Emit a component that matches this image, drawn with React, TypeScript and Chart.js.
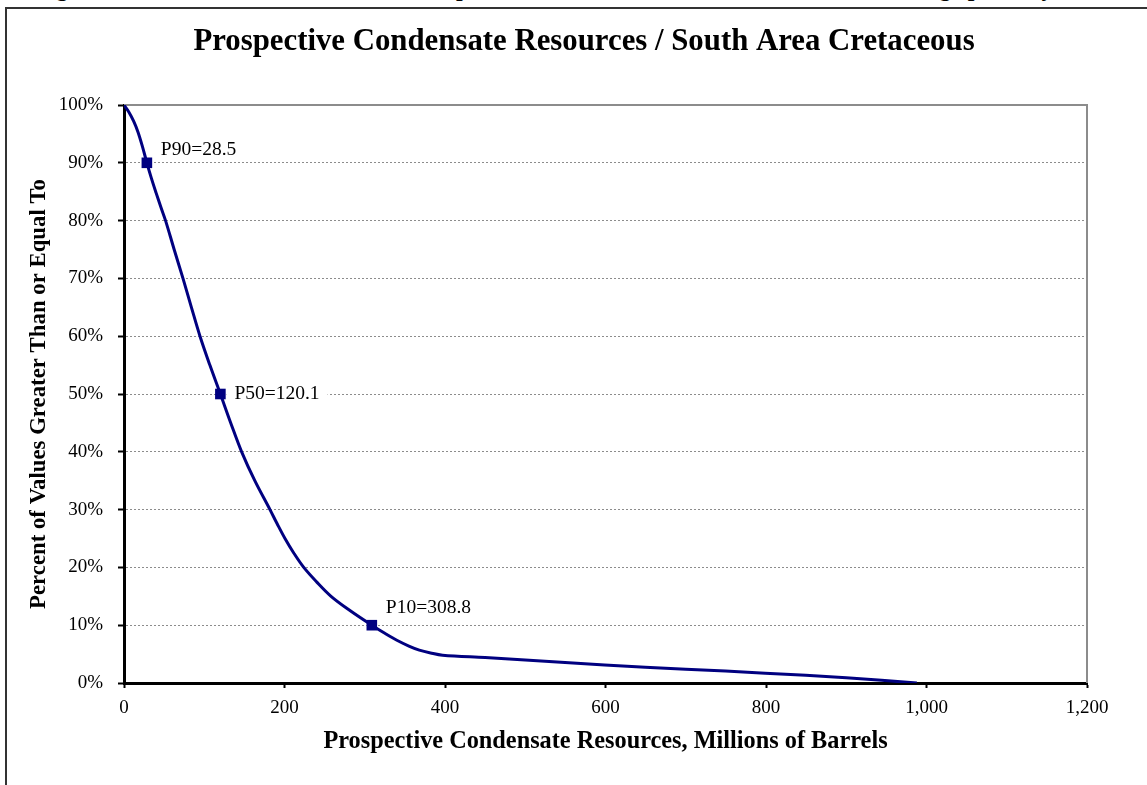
import React, { useEffect, useRef } from "react";
import { Chart, registerables } from "chart.js";

Chart.register(...registerables);

// ---- Data ----
const resourceMMbbl = [
  0, 6, 12, 17.5, 23, 28.5, 34, 40, 46, 51.8, 62.5, 73.5, 84, 94.7, 107, 120.1, 133, 146.6, 163,
  181.9, 191, 200.6, 211.5, 224, 240, 258, 282, 308.8, 325, 340, 355, 368, 382, 397, 450, 500, 599,
  700, 799, 900, 988,
];
const probabilityPct = [
  100, 98.8, 97.2, 95.3, 92.8, 90, 87.4, 84.8, 82.3, 80, 75, 70, 65, 60, 55, 50, 45, 40, 35,
  30, 27.5, 25, 22.5, 20, 17.5, 15, 12.5, 10, 8.6, 7.4, 6.4, 5.7, 5.2, 4.8, 4.4, 4.0, 3.1,
  2.4, 1.7, 0.9, 0,
];
const markerNames = ["P90", "P50", "P10"];
const markerValues = [28.5, 120.1, 308.8];
const markerProbs = [90, 50, 10];

const xMin = 0;
const xMax = 1200;
const xStep = 200;
const yMin = 0;
const yMax = 100;
const yStep = 10;

const chartTitle = "Prospective Condensate Resources / South Area Cretaceous";
const xAxisTitle = "Prospective Condensate Resources, Millions of Barrels";
const yAxisTitle = "Percent of Values Greater Than or Equal To";
const captionText =
  "Figure 3 Cumulative Distribution of Prospective Condensate Resources, South Area Range per Play";

const SERIF = "'Liberation Serif', 'Times New Roman', serif";

export default function App() {
  const canvasRef = useRef<HTMLCanvasElement | null>(null);

  useEffect(() => {
    const canvas = canvasRef.current;
    if (!canvas) return;

    const framePlugin = {
      id: "frameAndLabels",
      beforeDraw(chart: any) {
        const ctx = chart.ctx;
        ctx.save();
        ctx.fillStyle = "#000";
        ctx.font = `bold 30.8px ${SERIF}`;
        ctx.textAlign = "center";
        ctx.textBaseline = "middle";
        ctx.fillText(chartTitle, 584, 42);
        ctx.restore();
      },
      beforeDatasetsDraw(chart: any) {
        const ctx = chart.ctx;
        const { left, right, top, bottom } = chart.chartArea;
        ctx.save();
        ctx.strokeStyle = "#8c8c8c";
        ctx.lineWidth = 2;
        ctx.beginPath();
        ctx.moveTo(left, top);
        ctx.lineTo(right, top);
        ctx.lineTo(right, bottom);
        ctx.stroke();

        const xs = chart.scales.x;
        const ys = chart.scales.y;
        const offsets = [
          [14, -13],
          [14, 0],
          [14, -17],
        ];
        ctx.font = `19.5px ${SERIF}`;
        ctx.textBaseline = "middle";
        ctx.textAlign = "left";
        markerNames.forEach((name, i) => {
          const px = xs.getPixelForValue(markerValues[i]);
          const py = ys.getPixelForValue(markerProbs[i]);
          const text = `${name}=${markerValues[i]}`;
          const w = ctx.measureText(text).width;
          const tx = px + offsets[i][0];
          const ty = py + offsets[i][1];
          ctx.fillStyle = "#fff";
          ctx.fillRect(tx - 8, ty - 11, w + 16, 22);
          ctx.fillStyle = "#000";
          ctx.fillText(text, tx, ty);
        });
        ctx.restore();
      },
    };

    const chart = new Chart(canvas, {
      type: "scatter",
      data: {
        datasets: [
          {
            label: "Cumulative",
            data: resourceMMbbl.map((x, i) => ({ x, y: probabilityPct[i] })),
            showLine: true,
            borderColor: "#000080",
            backgroundColor: "#000080",
            borderWidth: 3,
            pointRadius: 0,
            tension: 0.35,
          },
          {
            label: "Markers",
            data: markerValues.map((x, i) => ({ x, y: markerProbs[i] })),
            showLine: false,
            pointStyle: "rect",
            pointRadius: 7.5,
            borderWidth: 0,
            backgroundColor: "#000080",
            borderColor: "#000080",
          },
        ],
      },
      options: {
        responsive: false,
        animation: false,
        devicePixelRatio: 1,
        events: [],
        layout: { padding: { left: 0, right: 60, top: 105, bottom: 0 } },
        plugins: {
          legend: { display: false },
          tooltip: { enabled: false },
          title: { display: false },
        },
        scales: {
          x: {
            type: "linear",
            min: xMin,
            max: xMax,
            ticks: {
              stepSize: xStep,
              padding: 9,
              color: "#000",
              font: { family: SERIF, size: 19 },
              maxRotation: 0,
              callback: (v: any) => Number(v).toLocaleString("en-US"),
            },
            grid: {
              drawOnChartArea: false,
              drawTicks: true,
              tickLength: 5,
              tickColor: "#000",
              tickWidth: 2,
            },
            border: { display: true, color: "#000", width: 3 },
            title: {
              display: true,
              text: xAxisTitle,
              color: "#000",
              font: { family: SERIF, size: 24.3, weight: "bold" },
              padding: { top: 0, bottom: 28.5 },
            },
            afterFit: (s: any) => {
              s.height = 102;
            },
          },
          y: {
            type: "linear",
            min: yMin,
            max: yMax,
            ticks: {
              stepSize: yStep,
              padding: 15,
              color: "#000",
              font: { family: SERIF, size: 19 },
              callback: (v: any) => `${v}%`,
            },
            grid: {
              color: "#8c8c8c",
              lineWidth: 1,
              drawTicks: true,
              tickLength: 6,
              tickColor: "#000",
              tickWidth: 2,
            },
            border: { display: true, color: "#000", width: 3, dash: [2, 2] },
            title: {
              display: true,
              text: yAxisTitle,
              color: "#000",
              font: { family: SERIF, size: 22.8, weight: "bold" },
              padding: { top: 25, bottom: 0 },
            },
            afterFit: (s: any) => {
              s.width = 124;
            },
          },
        },
      },
      plugins: [framePlugin],
    } as any);

    return () => {
      chart.destroy();
    };
  }, []);

  return (
    <div
      style={{
        position: "fixed",
        left: 0,
        top: 0,
        width: 1147,
        height: 785,
        overflow: "hidden",
        background: "#fff",
      }}
    >
      <div
        style={{
          position: "absolute",
          left: 35,
          top: -24,
          whiteSpace: "nowrap",
          fontFamily: SERIF,
          fontWeight: "bold",
          fontSize: 24,
          lineHeight: "24px",
          color: "#000",
        }}
      >
        {captionText}
      </div>
      <div
        style={{
          position: "absolute",
          left: 5,
          top: 7,
          width: 1300,
          height: 900,
          borderTop: "2px solid #333",
          borderLeft: "2px solid #333",
        }}
      />
      <canvas
        ref={canvasRef}
        width={1147}
        height={785}
        style={{ position: "absolute", left: 0, top: 0, width: 1147, height: 785 }}
      />
    </div>
  );
}
